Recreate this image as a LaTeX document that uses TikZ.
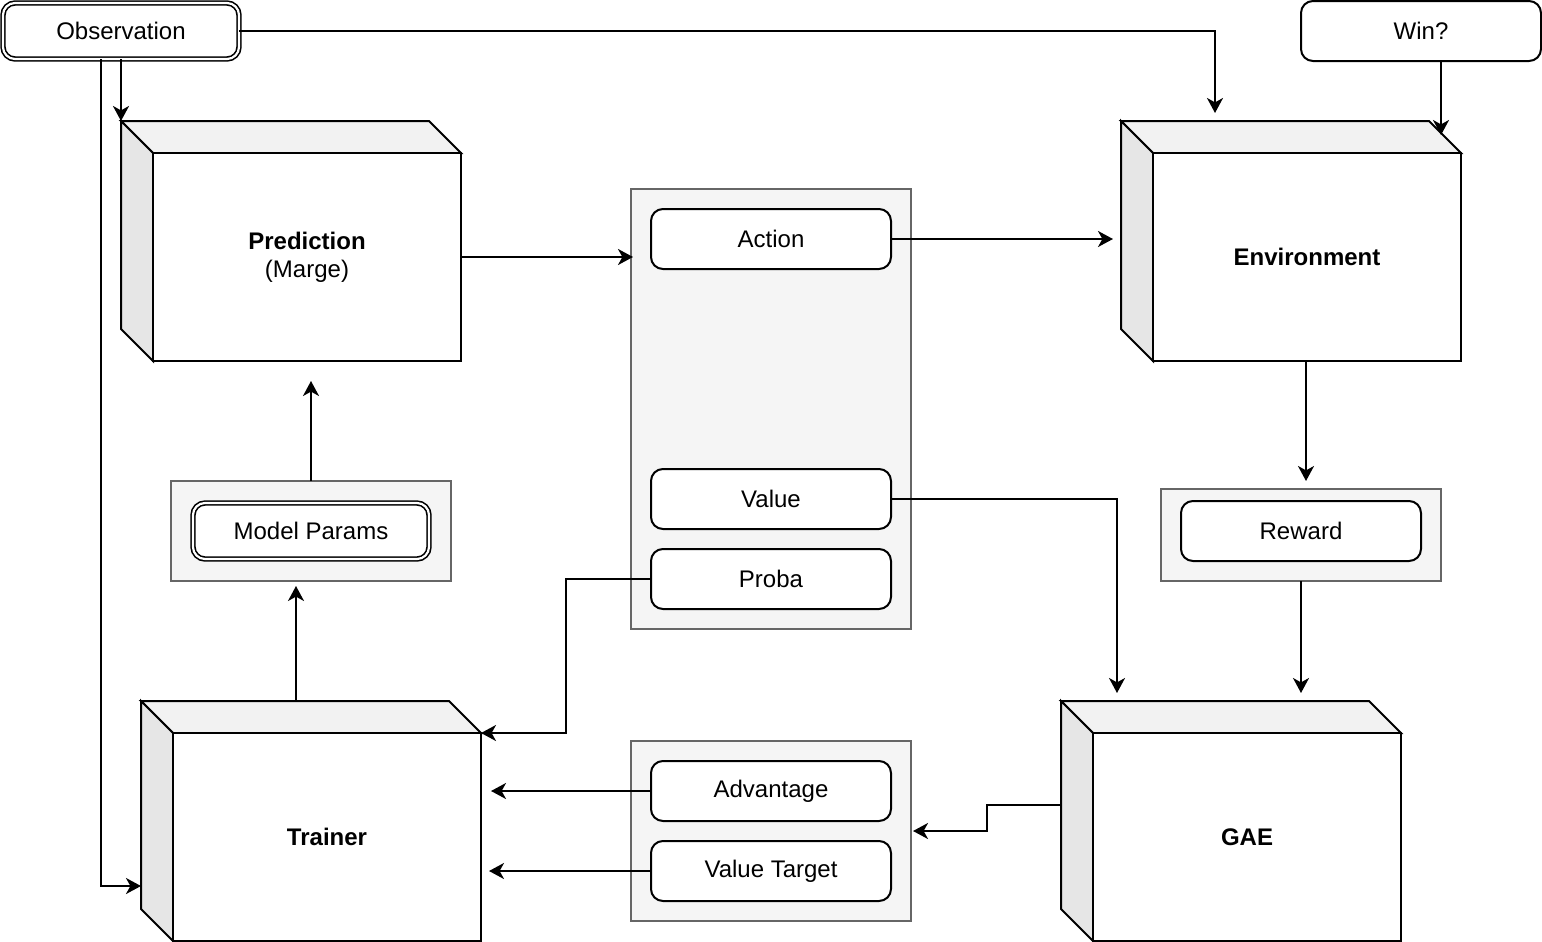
\documentclass[tikz,border=0pt]{standalone}
\usepackage{fontspec}
\setmainfont{Liberation Sans}
\usetikzlibrary{arrows.meta,calc}
\definecolor{panelfill}{HTML}{F5F5F5}
\definecolor{panelline}{HTML}{666666}
\definecolor{cubetop}{HTML}{F2F2F2}
\definecolor{cubeside}{HTML}{E6E6E6}
\newcommand\drawcube[4]{%
  \node[cubebb] (#1) at (#2,#3) {};
  \filldraw[cubeline, fill=cubetop] (#1.north west) -- ($(#1.north east)+(-32,0)$) -- ($(#1.north east)+(0,32)$) -- ($(#1.north west)+(32,32)$) -- cycle;
  \filldraw[cubeline, fill=cubeside] (#1.north west) -- ($(#1.north west)+(32,32)$) -- ($(#1.south west)+(32,0)$) -- ($(#1.south west)+(0,-32)$) -- cycle;
  \filldraw[cubeline, fill=white] ($(#1.north west)+(32,32)$) rectangle (#1.south east);
  \node[cubetext] (#1-label) at ($(#1.center)+(16,16)$) {#4};
}
\begin{document}
\begin{tikzpicture}[x=0.5pt,y=-0.5pt,
  font=\fontsize{12}{14}\selectfont,
  every node/.style={inner sep=0pt, outer sep=0pt},
  rbox/.style={draw, line width=1pt, rounded corners=6pt, fill=white, minimum width=120pt, minimum height=30pt},
  dbox/.style={draw, line width=0.8pt, double=white, double distance=1.1pt, rounded corners=6pt, fill=white, minimum width=118pt, minimum height=28pt},
  panel/.style={draw=panelline, fill=panelfill, line width=1pt, minimum width=140pt},
  cubebb/.style={rectangle, minimum width=170pt, minimum height=120pt, draw=none},
  cubeline/.style={line width=1pt, draw=black},
  cubetext/.style={align=center},
  arr/.style={line width=1pt, -{Stealth[length=7.5pt, width=8pt, inset=2.2pt]}}
]
\useasboundingbox (0,0) rectangle (1542,942);

% top nodes
\node[dbox] (obs) at (121,31) {Observation};
\node[rbox] (win) at (1421,31) {Win?};

% cubes
\drawcube{pred}{291}{241}{\textbf{Prediction}\\(Marge)}
\drawcube{env}{1291}{241}{\textbf{Environment}}
\drawcube{trn}{311}{821}{\textbf{Trainer}}
\drawcube{gae}{1231}{821}{\textbf{GAE}}

% panels
\node[panel, minimum height=220pt] (mid) at (771,409) {};
\node[rbox] (act) at (771,239) {Action};
\node[rbox] (val) at (771,499) {Value};
\node[rbox] (prob) at (771,579) {Proba};

\node[panel, minimum height=90pt] (botp) at (771,831) {};
\node[rbox] (adv) at (771,791) {Advantage};
\node[rbox] (vt) at (771,871) {Value Target};

\node[panel, minimum height=50pt] (mpp) at (311,531) {};
\node[dbox] (mp) at (311,531) {Model Params};

\node[panel, minimum height=46pt] (rwp) at (1301,535) {};
\node[rbox] (rw) at (1301,531) {Reward};

% connectors
\draw[arr] (obs.south) -- (pred.north west);
\draw[arr] ($(obs.south)+(-20,0)$) |- ($(trn.west)+(0,65)$);
\draw[arr] (obs.east) -| ($(env.north)+(-76,-8)$);
\draw[arr] ($(win.south)+(20,0)$) -- ($(env.north east)+(-20,14)$);
\coordinate (p1) at ($(pred.east)+(0,16)$);
\draw[arr] (p1) -- ($(p1 -| mid.west)+(2,0)$);
\draw[arr] (act.east) -- ($(act.east -| env.west)+(-8,0)$);
\draw[arr] ($(env.south)+(15,0)$) -- ($(rwp.north)+(5,-8)$);
\draw[arr] (val.east) -| ($(gae.north)+(-114,-8)$);
\draw[arr] (rwp.south) -- ($(gae.north)+(70,-8)$);
\draw[arr] ($(gae.west)+(0,-16)$) -- ++(-74,0) |- ($(botp.east)+(2,0)$);
\draw[arr] (adv.west) -- ($(adv.west -| trn.east)+(10,0)$);
\draw[arr] (vt.west) -- ($(vt.west -| trn.east)+(8,0)$);
\draw[arr] (prob.west) -- ++(-85,0) |- ($(trn.north east)+(0,32)$);
\draw[arr] ($(trn.north)+(-15,0)$) -- ($(mpp.south)+(-15,5)$);
\draw[arr] (mpp.north) -- ($(pred.south)+(20,20)$);
\end{tikzpicture}
\end{document}
